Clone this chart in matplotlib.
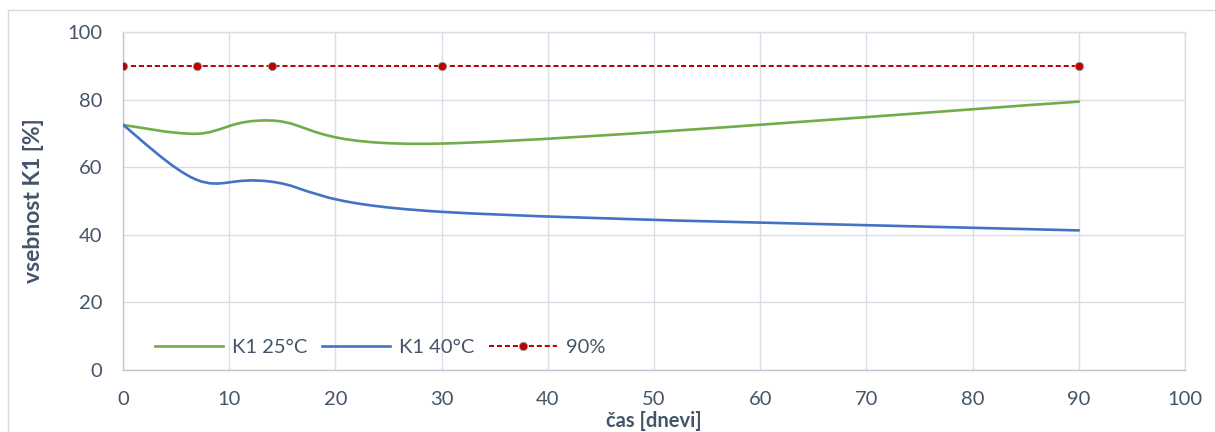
import matplotlib
matplotlib.use("Agg")
import matplotlib.pyplot as plt
from matplotlib.path import Path
from matplotlib.patches import PathPatch, Rectangle
from matplotlib.lines import Line2D

# ---- data ----
days = [0, 7, 14, 30, 90]
k1_25 = [72.5, 69.9, 73.8, 67.0, 79.4]
k1_40 = [72.5, 56.2, 55.7, 46.8, 41.3]
limit_90 = [90, 90, 90, 90, 90]
series_names = ["K1 25°C", "K1 40°C", "90%"]
x_ticks = [0, 10, 20, 30, 40, 50, 60, 70, 80, 90, 100]
y_ticks = [0, 20, 40, 60, 80, 100]

TEXT = "#44546A"
GRID = "#D9DEE6"
FONT = "Lato"
FS = 14.5

plt.rcParams["font.family"] = [FONT, "DejaVu Sans"]

W, H = 1215, 432
fig = plt.figure(figsize=(W / 100, H / 100), dpi=100)

# outer chart border
fig.patches.append(Rectangle((8 / W, -0.1), 1.2, (H - 10) / H + 0.1,
                             transform=fig.transFigure, fill=False,
                             edgecolor="#D9D9D9", linewidth=1.0))

L, R, T, B = 123, 1185, 32, 370
ax = fig.add_axes([L / W, (H - B) / H, (R - L) / W, (B - T) / H])
ax.set_xlim(0, 100)
ax.set_ylim(0, 100)
ax.set_xticks(x_ticks)
ax.set_yticks(y_ticks)
ax.tick_params(length=0, labelsize=FS, colors=TEXT)
ax.tick_params(axis="y", pad=15)
ax.tick_params(axis="x", pad=15)
ax.grid(True, color=GRID, linewidth=1.0)
ax.set_axisbelow(True)
for s in ax.spines.values():
    s.set_color(GRID)
    s.set_linewidth(1.0)
ax.spines["left"].set_color("#BFC6D2")
ax.spines["bottom"].set_color("#BFC6D2")


def smooth_path(xs, ys):
    """Excel-style smoothed line: cubic Bezier segments through the data points."""
    pts = list(zip(xs, ys))
    n = len(pts)
    verts = [pts[0]]
    codes = [Path.MOVETO]
    for i in range(n - 1):
        p0 = pts[i]
        p1 = pts[i + 1]
        pm = pts[i - 1] if i > 0 else p0
        pn = pts[i + 2] if i + 2 < n else p1
        c1 = (p0[0] + (p1[0] - pm[0]) / 6, p0[1] + (p1[1] - pm[1]) / 6)
        c2 = (p1[0] - (pn[0] - p0[0]) / 6, p1[1] - (pn[1] - p0[1]) / 6)
        verts += [c1, c2, p1]
        codes += [Path.CURVE4] * 3
    return Path(verts, codes)


ax.add_patch(PathPatch(smooth_path(days, k1_25), facecolor="none",
                       edgecolor="#70AD47", linewidth=1.9, zorder=3,
                       capstyle="round"))
ax.add_patch(PathPatch(smooth_path(days, k1_40), facecolor="none",
                       edgecolor="#4472C4", linewidth=1.9, zorder=3,
                       capstyle="round"))
ax.plot(days, limit_90, color="#C00000", linestyle=(0, (2.6, 1.5)),
        linewidth=1.4, marker="o", markersize=6, markerfacecolor="#C00000",
        markeredgecolor="#A0A0A0", markeredgewidth=0.6, zorder=4)

handles = [
    Line2D([], [], color="#70AD47", linewidth=1.9),
    Line2D([], [], color="#4472C4", linewidth=1.9),
    Line2D([], [], color="#C00000", linestyle=(0, (2.6, 1.5)), linewidth=1.4,
           marker="o", markersize=6, markerfacecolor="#C00000",
           markeredgecolor="#A0A0A0", markeredgewidth=0.6),
]
leg = ax.legend(handles, series_names, ncol=3, frameon=False,
                loc="center left", bbox_to_anchor=((155 - L) / (R - L), (B - 347) / (B - T)),
                fontsize=FS, handlelength=3.4, handletextpad=0.4,
                columnspacing=0.75, borderpad=0, borderaxespad=0)
for t in leg.get_texts():
    t.set_color(TEXT)

ax.set_ylabel("vsebnost K1 [%]", fontsize=16.5, fontweight="bold", color=TEXT)
ax.yaxis.set_label_coords(-(L - 44.5) / (R - L), 0.5)
ax.set_xlabel("čas [dnevi]", fontsize=14.5, fontweight="bold", color=TEXT)
ax.xaxis.set_label_coords(0.5, -(421 - B) / (B - T))
ax.xaxis.label.set_va("center")

fig.savefig("out.png", dpi=100)
